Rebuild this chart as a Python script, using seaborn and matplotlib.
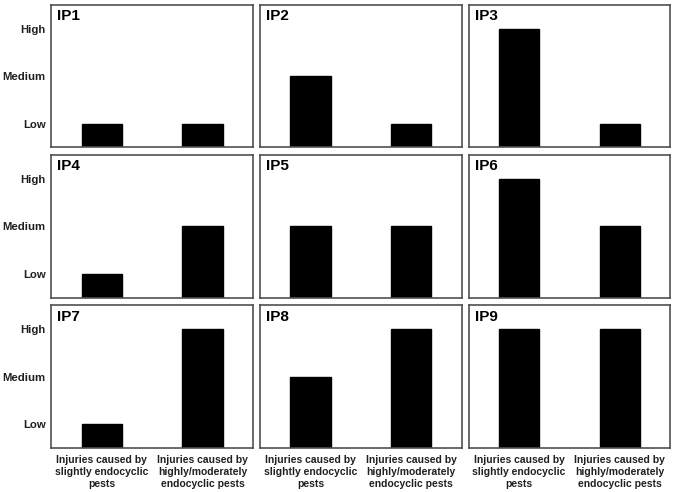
import pandas as pd
import matplotlib.pyplot as plt
import seaborn as sns

# niveles: Low=1, Medium=2, High=3
panels = ["IP1", "IP2", "IP3", "IP4", "IP5", "IP6", "IP7", "IP8", "IP9"]
slightly = [1, 2, 3, 1, 2, 3, 1, 2, 3]
highly = [1, 1, 1, 2, 2, 2, 3, 3, 3]
categories = ["Injuries caused by\nslightly endocyclic\npests",
              "Injuries caused by\nhighly/moderately\nendocyclic pests"]
level_labels = ["Low", "Medium", "High"]
level_values = [1, 2, 3]

sns.set_theme(style="white")
plt.rcParams['font.family'] = ['Liberation Sans', 'DejaVu Sans']
plt.rcParams['font.weight'] = 'bold'

fig, axes = plt.subplots(3, 3, figsize=(6.75, 4.92), dpi=100)
fig.subplots_adjust(left=0.076, right=0.993, top=0.99, bottom=0.09, wspace=0.035, hspace=0.055)

for i, ax in enumerate(axes.flat):
    df = pd.DataFrame({"cat": categories, "val": [slightly[i], highly[i]]})
    sns.barplot(data=df, x="cat", y="val", color="black", saturation=1,
                width=0.4, ax=ax)
    for p in ax.patches:
        p.set_edgecolor("black")
    ax.set_ylim(0.5, 3.5)
    ax.set_xlim(-0.5, 1.5)
    ax.set_xlabel("")
    ax.set_ylabel("")
    ax.set_yticks(level_values)
    ax.tick_params(length=0)
    ax.tick_params(axis="y", pad=4)
    if i % 3 == 0:
        ax.set_yticklabels(level_labels, fontsize=8.2, fontweight="bold", color="#202020")
    else:
        ax.set_yticklabels([])
    if i >= 6:
        ax.set_xticks([0, 1])
        ax.set_xticklabels(categories, fontsize=7.5, fontweight="bold", color="#202020",
                           linespacing=1.25)
        ax.tick_params(axis="x", pad=5)
    else:
        ax.set_xticklabels([])
    for s in ax.spines.values():
        s.set_color("#505050")
        s.set_linewidth(1.2)
    ax.text(0.03, 0.97, panels[i], transform=ax.transAxes, ha="left", va="top",
            fontsize=11, fontweight="bold", color="black")

plt.savefig("out.png", dpi=100)
